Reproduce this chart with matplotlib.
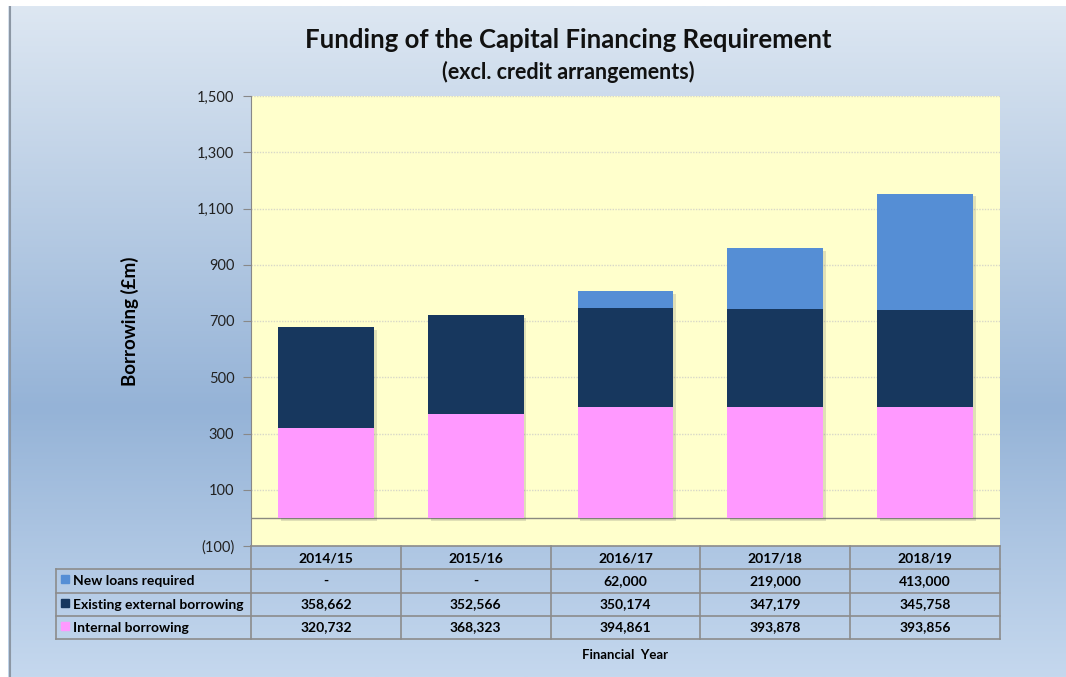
import numpy as np
import matplotlib.pyplot as plt
import matplotlib.patheffects as pe
from matplotlib.colors import LinearSegmentedColormap

plt.rcParams['font.family'] = ['Lato', 'DejaVu Sans']

years = ['2014/15', '2015/16', '2016/17', '2017/18', '2018/19']
internal = [320732, 368323, 394861, 393878, 393856]
existing = [358662, 352566, 350174, 347179, 345758]
new_loans = [0, 0, 62000, 219000, 413000]
series_names = ['New loans required', 'Existing external borrowing', 'Internal borrowing']
yticks = [-100, 100, 300, 500, 700, 900, 1100, 1300, 1500]

c_new = '#558ED5'
c_exist = '#17375E'
c_int = '#FF99FF'

W, H = 1066, 677
fig = plt.figure(figsize=(W / 100, H / 100), dpi=100)
fig.patch.set_facecolor('white')

# gradient background
bg = fig.add_axes([8 / W, 0, (W - 8) / W, (H - 6) / H])
bg.set_axis_off()
grad = LinearSegmentedColormap.from_list(
    'g', [(0, '#C5D8EE'), (0.40, '#95B3D7'), (1, '#DDE7F2')])
bg.imshow(np.linspace(0, 1, 256).reshape(-1, 1), aspect='auto', cmap=grad,
          extent=[0, 1, 0, 1], origin='lower')
bg.set_xlim(0, 1)
bg.set_ylim(0, 1)
bg.axvline(0.0015, color='#8C97A4', lw=1.5)


def fx(px):
    return px / W


def fy(py):
    return 1 - py / H


# main plot area
ax = fig.add_axes([fx(251), fy(546), fx(1000) - fx(251), fy(96) - fy(546)])
ax.set_facecolor('#FFFFCC')
x = np.arange(len(years))
m = lambda v: np.array(v) / 1000.0
total = m(internal) + m(existing) + m(new_loans)
# soft drop shadow behind each whole stack
sh = ax.bar(x, total, width=0.64, color='none', zorder=2.5)
for p in sh:
    p.set_path_effects([pe.SimplePatchShadow(offset=(2, -2), shadow_rgbFace='#555555',
                                             alpha=0.18)])
ax.bar(x, m(internal), width=0.64, color=c_int, zorder=3)
ax.bar(x, m(existing), width=0.64, bottom=m(internal), color=c_exist, zorder=3)
ax.bar(x, m(new_loans), width=0.64, bottom=m(internal) + m(existing),
       color=c_new, zorder=3)
ax.set_xlim(-0.5, len(years) - 0.5)
ax.set_ylim(-100, 1500)
ax.set_yticks(yticks)
ax.set_yticklabels(['(100)' if t < 0 else f'{t:,}' for t in yticks], fontsize=10.5,
                   color='#222222')
ax.grid(axis='y', color='#D8D8C8', linestyle=(0, (1, 1)), lw=1, zorder=0)
ax.axhline(0, color='#8A8A80', lw=1, zorder=2)
ax.set_xticks([])
ax.tick_params(axis='y', length=6, color='#888888', pad=6)
for s in ['top', 'right']:
    ax.spines[s].set_visible(False)
ax.spines['left'].set_color('#888888')
ax.spines['bottom'].set_visible(False)
ax.set_ylabel('Borrowing (£m)', fontsize=13.5, fontweight='bold', labelpad=42)

# title
fig.text(fx(568), fy(40), 'Funding of the Capital Financing Requirement',
         ha='center', va='center', fontsize=18.5, fontweight='bold', color='#111111')
fig.text(fx(568), fy(72), '(excl. credit arrangements)',
         ha='center', va='center', fontsize=15.5, fontweight='bold', color='#111111')

# data table
tab = fig.add_axes([fx(56), fy(639), fx(1000) - fx(56), fy(546) - fy(639)])
tab.set_axis_off()
tab.set_xlim(56, 1000)
tab.set_ylim(639, 546)
col_edges = [251 + 149.8 * i for i in range(len(years) + 1)]
row_edges = [546, 569, 593, 616, 639]
lc = '#8C8C8C'
lk = dict(color=lc, lw=1.2, clip_on=False)
for xe in col_edges:
    tab.plot([xe, xe], [546, 639], **lk)
tab.plot([56, 56], [569, 639], **lk)
tab.plot([251, 1000], [546, 546], **lk)
for ye in row_edges[1:]:
    tab.plot([56, 1000], [ye, ye], **lk)

for i, yr in enumerate(years):
    cx = (col_edges[i] + col_edges[i + 1]) / 2
    tab.text(cx, 558, yr, ha='center', va='center', fontsize=10, fontweight='bold')

rows = [(series_names[0], new_loans, c_new),
        (series_names[1], existing, c_exist),
        (series_names[2], internal, c_int)]
for r, (name, vals, col) in enumerate(rows):
    cy = (row_edges[r + 1] + row_edges[r + 2]) / 2
    tab.add_patch(plt.Rectangle((61, cy - 6), 8, 8, color=col, clip_on=False))
    tab.text(73, cy, name, ha='left', va='center', fontsize=10, fontweight='bold')
    for i, v in enumerate(vals):
        cx = (col_edges[i] + col_edges[i + 1]) / 2
        tab.text(cx, cy, '-' if v == 0 else f'{v:,}', ha='center', va='center',
                 fontsize=10, fontweight='bold')

fig.text(fx(625), fy(655), 'Financial  Year', ha='center', va='center',
         fontsize=9.5, fontweight='bold')

fig.savefig('out.png', dpi=100)
